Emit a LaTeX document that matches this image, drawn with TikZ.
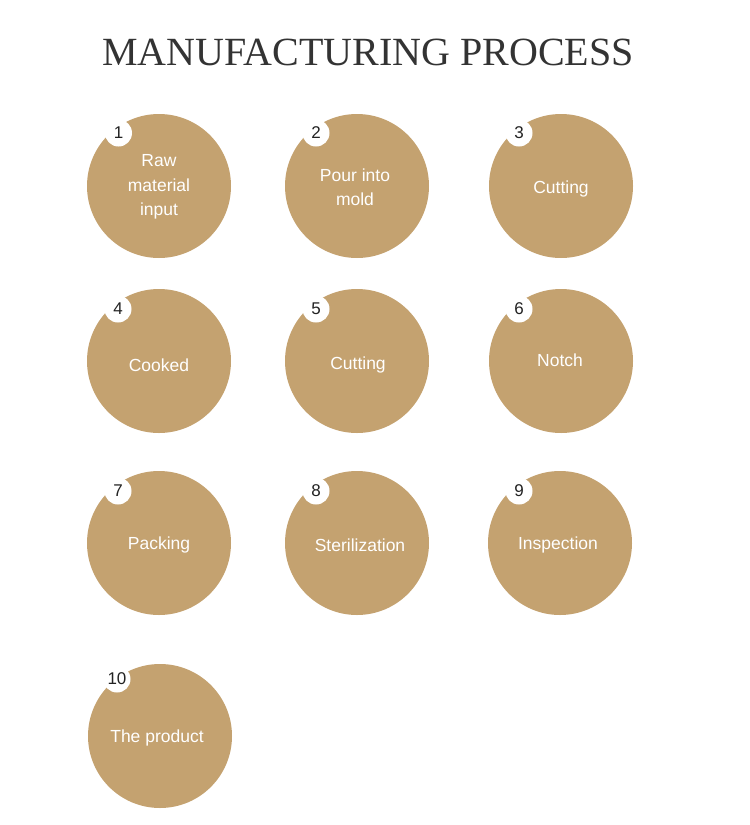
\documentclass[tikz,border=0pt]{standalone}
\usepackage{fontspec}
\setmainfont{Liberation Sans}
\newfontfamily\titlefont{Liberation Serif}
\definecolor{gold}{HTML}{C4A270}
\definecolor{titlegray}{HTML}{333333}
\definecolor{numgray}{HTML}{222222}
\tikzset{
  bigdot/.style={circle, fill=gold, minimum size=144pt, inner sep=0pt},
  steplabel/.style={text=white, align=center, font=\fontsize{17.5}{24.5}\selectfont},
  numdot/.style={circle, fill=white, minimum size=27pt, inner sep=0pt, text=numgray, font=\fontsize{17}{20}\selectfont},
}
\begin{document}
\begin{tikzpicture}[x=1pt,y=-1pt]
\useasboundingbox (0,0) rectangle (750,825);
\node[font=\titlefont\fontsize{40}{44}\selectfont, text=titlegray] (title) at (368,52) {MANUFACTURING PROCESS};
% row 1
\node[bigdot] (c1) at (159,186) {};
\node[bigdot] (c2) at (357,186) {};
\node[bigdot] (c3) at (561,186) {};
% row 2
\node[bigdot] (c4) at (159,361) {};
\node[bigdot] (c5) at (357,361) {};
\node[bigdot] (c6) at (561,361) {};
% row 3
\node[bigdot] (c7) at (159,543) {};
\node[bigdot] (c8) at (357,543) {};
\node[bigdot] (c9) at (560,543) {};
% row 4
\node[bigdot] (c10) at (160,736) {};
% labels
\node[steplabel] (l1) at (159,187) {Raw\\material\\input};
\node[steplabel] (l2) at (355,187) {Pour into\\mold};
\node[steplabel] (l3) at (561,189) {Cutting};
\node[steplabel] (l4) at (159,365) {Cooked};
\node[steplabel] (l5) at (358,365) {Cutting};
\node[steplabel] (l6) at (560,360) {Notch};
\node[steplabel] (l7) at (159,545) {Packing};
\node[steplabel] (l8) at (360,545) {Sterilization};
\node[steplabel] (l9) at (558,545) {Inspection};
\node[steplabel] (l10) at (157,738) {The product};
% number badges
\node[numdot] (n1) at (118.5,133) {1};
\node[numdot] (n2) at (316,133) {2};
\node[numdot] (n3) at (519,133) {3};
\node[numdot] (n4) at (118,309) {4};
\node[numdot] (n5) at (316,309) {5};
\node[numdot] (n6) at (519,309) {6};
\node[numdot] (n7) at (118,491) {7};
\node[numdot] (n8) at (316,491) {8};
\node[numdot] (n9) at (519,491) {9};
\node[numdot] (n10) at (117,679) {10};
\end{tikzpicture}
\end{document}
